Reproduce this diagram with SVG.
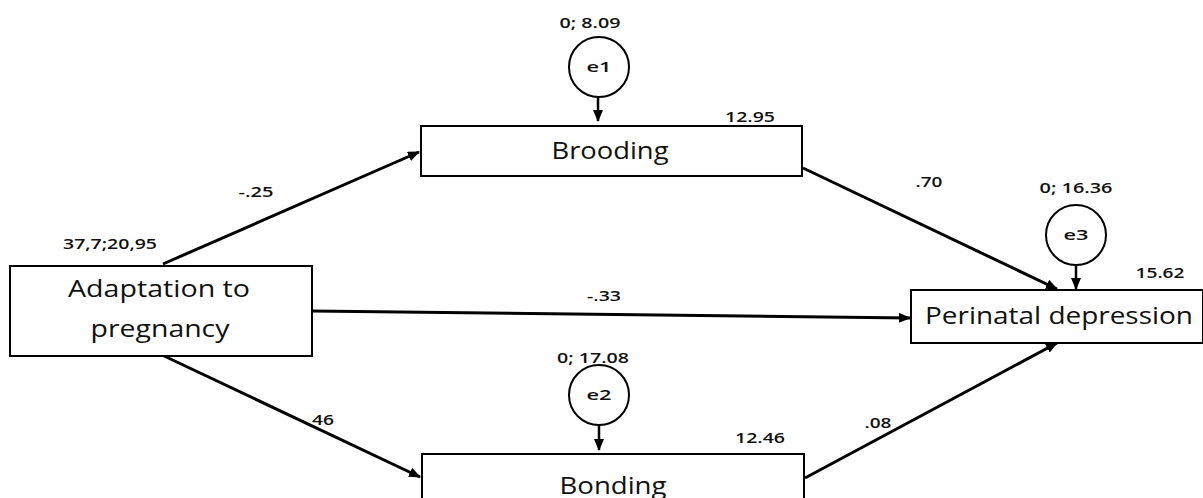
<svg xmlns="http://www.w3.org/2000/svg" width="1203" height="498" viewBox="0 0 1203 498">
<style>
.box{fill:#fff;stroke:#000;stroke-width:2}
.err{fill:#fff;stroke:#000;stroke-width:2}
.big{font-family:"Open Sans","Liberation Sans",sans-serif;font-size:24px;fill:#111;text-anchor:middle}
.sm{font-family:"Open Sans","Liberation Sans",sans-serif;font-size:14px;font-weight:600;fill:#111;text-anchor:middle}
.c{stroke:#000;stroke-width:3;fill:none;marker-end:url(#ah)}
.c2{stroke:#000;stroke-width:2.5;fill:none;marker-end:url(#ah)}
</style>
<defs>
<marker id="ah" markerWidth="12" markerHeight="10" refX="11" refY="5" orient="auto" markerUnits="userSpaceOnUse">
<path d="M0,0 L12,5 L0,10 Z" fill="#000"/>
</marker>
</defs>
<rect width="1203" height="498" fill="#fff"/>
<g id="connectors">
<line class="c" x1="163" y1="264" x2="419" y2="152"/>
<line class="c" x1="312" y1="311" x2="910" y2="318"/>
<line class="c" x1="162" y1="355" x2="420" y2="477"/>
<line class="c" x1="803" y1="168" x2="1057" y2="289"/>
<line class="c" x1="805" y1="478" x2="1057" y2="343"/>
<line class="c2" x1="598" y1="96" x2="598" y2="121"/>
<line class="c2" x1="599" y1="424" x2="599" y2="450"/>
<line class="c2" x1="1076" y1="264" x2="1076" y2="289"/>
<text class="sm" x="256" y="197" textLength="35" lengthAdjust="spacingAndGlyphs">-.25</text>
<text class="sm" x="604" y="301" textLength="34" lengthAdjust="spacingAndGlyphs">-.33</text>
<text class="sm" x="323" y="425" textLength="22" lengthAdjust="spacingAndGlyphs">46</text>
<text class="sm" x="929" y="187" textLength="27" lengthAdjust="spacingAndGlyphs">.70</text>
<text class="sm" x="878" y="428" textLength="27" lengthAdjust="spacingAndGlyphs">.08</text>
</g>
<g id="adaptation">
<rect class="box" x="10" y="266" width="302" height="90"/>
<text class="big" x="159" y="297" textLength="182" lengthAdjust="spacingAndGlyphs">Adaptation to</text>
<text class="big" x="160" y="337" textLength="139" lengthAdjust="spacingAndGlyphs">pregnancy</text>
<text class="sm" x="110" y="249" textLength="94" lengthAdjust="spacingAndGlyphs">37,7;20,95</text>
</g>
<g id="brooding">
<rect class="box" x="421" y="126" width="381" height="50"/>
<text class="big" x="610" y="159" textLength="117" lengthAdjust="spacingAndGlyphs">Brooding</text>
<text class="sm" x="750" y="122" textLength="50" lengthAdjust="spacingAndGlyphs">12.95</text>
</g>
<g id="bonding">
<rect class="box" x="422" y="454" width="382" height="60"/>
<text class="big" x="613" y="494" textLength="107" lengthAdjust="spacingAndGlyphs">Bonding</text>
<text class="sm" x="760" y="443" textLength="50" lengthAdjust="spacingAndGlyphs">12.46</text>
</g>
<g id="perinatal">
<rect class="box" x="911" y="290" width="292" height="53"/>
<text class="big" x="1059" y="324" textLength="268" lengthAdjust="spacingAndGlyphs">Perinatal depression</text>
<text class="sm" x="1160" y="278" textLength="49" lengthAdjust="spacingAndGlyphs">15.62</text>
</g>
<g id="e1">
<circle class="err" cx="599" cy="67" r="30"/>
<text class="sm" x="599" y="72" textLength="25" lengthAdjust="spacingAndGlyphs">e1</text>
<text class="sm" x="590" y="28" textLength="61" lengthAdjust="spacingAndGlyphs">0; 8.09</text>
</g>
<g id="e2">
<circle class="err" cx="599" cy="395" r="30"/>
<text class="sm" x="599" y="400" textLength="25" lengthAdjust="spacingAndGlyphs">e2</text>
<text class="sm" x="593" y="363" textLength="72" lengthAdjust="spacingAndGlyphs">0; 17.08</text>
</g>
<g id="e3">
<circle class="err" cx="1076" cy="235" r="30"/>
<text class="sm" x="1076" y="240" textLength="25" lengthAdjust="spacingAndGlyphs">e3</text>
<text class="sm" x="1076" y="193" textLength="73" lengthAdjust="spacingAndGlyphs">0; 16.36</text>
</g>
</svg>
